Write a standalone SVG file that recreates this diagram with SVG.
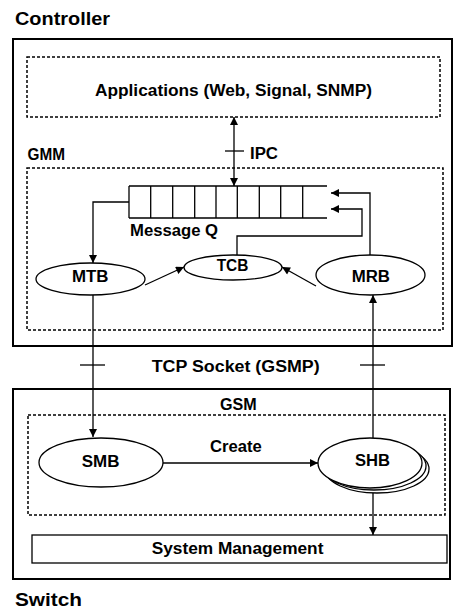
<svg xmlns="http://www.w3.org/2000/svg" width="454" height="610" viewBox="0 0 454 610">
<defs>
<marker id="ah" viewBox="0 0 10 10" refX="10" refY="5" markerWidth="9" markerHeight="8" markerUnits="userSpaceOnUse" orient="auto-start-reverse">
<path d="M0,0 L10,5 L0,10 z" fill="#000"/>
</marker>
<style>
text{font-family:"Liberation Sans",Arial,sans-serif;font-weight:bold;fill:#000}
.t{font-size:16px}
.big{font-size:18px}
.box{fill:none;stroke:#000;stroke-width:2}
.dash{fill:none;stroke:#000;stroke-width:1.5;stroke-dasharray:3,2}
.ln{fill:none;stroke:#000;stroke-width:1.3}
.ell{fill:#fff;stroke:#000;stroke-width:1.3}
</style>
</defs>
<rect width="454" height="610" fill="#fff"/>

<g id="controller">
<text class="big" x="15" y="25" textLength="95" lengthAdjust="spacingAndGlyphs">Controller</text>
<rect class="box" x="13" y="39" width="439" height="307"/>
</g>
<g id="applications">
<rect class="dash" x="27" y="57" width="413" height="60"/>
<text class="t" x="95" y="96" textLength="277" lengthAdjust="spacingAndGlyphs">Applications (Web, Signal, SNMP)</text>
</g>
<g id="gmm">
<text class="t" x="27.5" y="159.5" textLength="37.5" lengthAdjust="spacingAndGlyphs">GMM</text>
<rect class="dash" x="27" y="168" width="416" height="162"/>
</g>
<g id="queue">
<path class="ln" d="M129,186 H327 M129,218 H327 M129,186 V218 M150.7,186 V218 M172.7,186 V218 M194.7,186 V218 M216,186 V218 M237.3,186 V218 M259.3,186 V218 M280.7,186 V218 M302.7,186 V218"/>
<text class="t" x="130" y="236" textLength="88" lengthAdjust="spacingAndGlyphs">Message Q</text>
</g>
<g id="mtb">
<ellipse class="ell" cx="90.5" cy="279" rx="54.5" ry="16"/>
<text class="t" x="72" y="282" textLength="36.5" lengthAdjust="spacingAndGlyphs">MTB</text>
</g>
<g id="tcb">
<ellipse class="ell" cx="233" cy="267.5" rx="49" ry="12.5"/>
<text class="t" x="216.7" y="270.5" textLength="31.7" lengthAdjust="spacingAndGlyphs">TCB</text>
</g>
<g id="mrb">
<ellipse class="ell" cx="370.5" cy="275" rx="54.5" ry="20"/>
<text class="t" x="351.7" y="282" textLength="38.3" lengthAdjust="spacingAndGlyphs">MRB</text>
</g>

<g id="switch">
<rect class="box" x="13" y="389" width="437" height="190"/>
<text class="big" x="15" y="606" textLength="67" lengthAdjust="spacingAndGlyphs">Switch</text>
</g>
<g id="gsm">
<text class="t" x="220" y="410" textLength="36.7" lengthAdjust="spacingAndGlyphs">GSM</text>
<rect class="dash" x="28" y="415" width="417" height="100"/>
</g>
<g id="smb">
<ellipse class="ell" cx="101" cy="462.5" rx="62" ry="24.5"/>
<text class="t" x="81.7" y="467" textLength="37.7" lengthAdjust="spacingAndGlyphs">SMB</text>
</g>
<g id="shb">
<ellipse class="ell" cx="377" cy="469" rx="52" ry="24"/>
<ellipse class="ell" cx="374" cy="466" rx="52" ry="24"/>
<ellipse class="ell" cx="370" cy="463" rx="52" ry="25"/>
<text class="t" x="355" y="465.5" textLength="35" lengthAdjust="spacingAndGlyphs">SHB</text>
</g>
<g id="sysmgmt">
<rect class="ln" x="32" y="535" width="415" height="28"/>
<text class="t" x="151.7" y="554" textLength="171.7" lengthAdjust="spacingAndGlyphs">System Management</text>
</g>

<g id="connectors">
<path class="ln" d="M234,117 V186" marker-start="url(#ah)" marker-end="url(#ah)"/>
<path class="ln" d="M225,151 H244"/>
<text class="t" x="250" y="159" textLength="28" lengthAdjust="spacingAndGlyphs">IPC</text>
<path class="ln" d="M129,202 H93 V263" marker-end="url(#ah)"/>
<path class="ln" d="M370,255 V193 H331" marker-end="url(#ah)"/>
<path class="ln" d="M237,255 V236 H362 V209 H331" marker-end="url(#ah)"/>
<path class="ln" d="M145,285 L184,267" marker-end="url(#ah)"/>
<path class="ln" d="M316,286 L282,267" marker-end="url(#ah)"/>
<path class="ln" d="M93,295 V437" marker-end="url(#ah)"/>
<path class="ln" d="M80,365 H105"/>
<path class="ln" d="M373,438 V295" marker-end="url(#ah)"/>
<path class="ln" d="M360,365 H385"/>
<text class="t" x="151.7" y="372" textLength="168" lengthAdjust="spacingAndGlyphs">TCP Socket (GSMP)</text>
<path class="ln" d="M163,463 H318" marker-end="url(#ah)"/>
<text class="t" x="210" y="452" textLength="51.7" lengthAdjust="spacingAndGlyphs">Create</text>
<path class="ln" d="M373,493 V535" marker-end="url(#ah)"/>
</g>
</svg>
